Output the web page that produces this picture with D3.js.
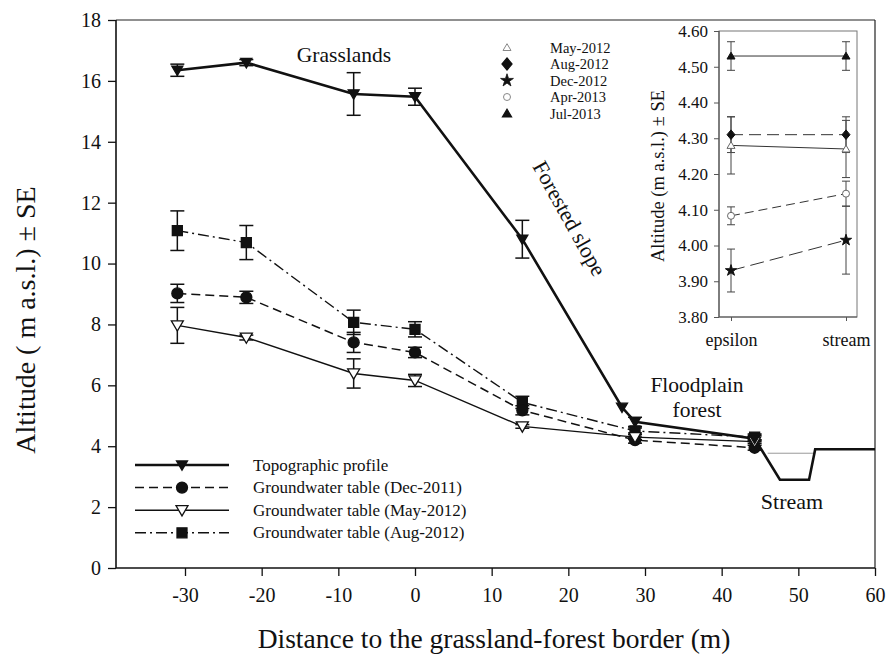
<!DOCTYPE html>
<html><head><meta charset="utf-8">
<script src="https://cdn.jsdelivr.net/npm/d3@7"></script>
<style>
body{margin:0;background:#fff;}
svg text{font-family:"Liberation Serif","Times New Roman",Times,serif !important;fill:#111;}
</style></head>
<body><svg id="c" width="887" height="655"></svg>
<script>
// ---- main chart data ----
const xPos = [-31, -22, -8, 0, 14, 28.7, 44.3];
const xTicks = [-30, -20, -10, 0, 10, 20, 30, 40, 50, 60];
const yTicks = [0, 2, 4, 6, 8, 10, 12, 14, 16, 18];
const topoX = [-31, -22, -8, 0, 14, 27, 28.7, 44.3, 47.6, 51.4, 52.2, 60];
const topoY = [16.35, 16.6, 15.57, 15.48, 10.8, 5.28, 4.8, 4.25, 2.9, 2.9, 3.9, 3.9];
const topoMarkX = [-31, -22, -8, 0, 14, 27, 28.7, 44.3];
const topoMarkY = [16.35, 16.6, 15.57, 15.48, 10.8, 5.28, 4.8, 4.25];
const topoErr = [0.2, 0.1, 0.7, 0.28, 0.62, 0, 0.15, 0.1];
const waterX = [46, 52.2];
const waterY = [3.77, 3.77];
const dec2011 = [9.02, 8.89, 7.41, 7.08, 5.18, 4.2, 3.95];
const dec2011Err = [0.3, 0.2, 0.33, 0.17, 0.15, 0.1, 0.08];
const may2012 = [7.97, 7.57, 6.39, 6.16, 4.65, 4.3, 4.15];
const may2012Err = [0.59, 0.08, 0.48, 0.2, 0.06, 0.08, 0.06];
const aug2012 = [11.08, 10.69, 8.07, 7.84, 5.44, 4.5, 4.3];
const aug2012Err = [0.65, 0.56, 0.4, 0.25, 0.2, 0.1, 0.1];
const mainLegend = ["Topographic profile", "Groundwater table (Dec-2011)", "Groundwater table (May-2012)", "Groundwater table (Aug-2012)"];

// ---- inset data ----
const insetCats = ["epsilon", "stream"];
const insetTicks = [3.80, 3.90, 4.00, 4.10, 4.20, 4.30, 4.40, 4.50, 4.60];
const insetNames = ["May-2012", "Aug-2012", "Dec-2012", "Apr-2013", "Jul-2013"];
const inMay12 = [4.28, 4.27], inMay12Err = [0.08, 0.08];
const inAug12 = [4.31, 4.31], inAug12Err = [0.05, 0.05];
const inDec12 = [3.93, 4.015], inDec12Err = [0.06, 0.095];
const inApr13 = [4.083, 4.145], inApr13Err = [0.025, 0.035];
const inJul13 = [4.53, 4.53], inJul13Err = [0.04, 0.04];

const SERIF = '"Liberation Serif","Times New Roman",Times,serif';
const svg = d3.select("#c");
const L = 116, R = 875, T = 20, B = 568;
const x = d3.scaleLinear().domain([-39, 60]).range([L, R]);
const y = d3.scaleLinear().domain([0, 18]).range([B, T]);

function txt(g, x0, y0, s, size, anchor, rot) {
  const t = g.append("text").attr("font-size", size).attr("text-anchor", anchor || "start")
    .style("font-family", SERIF).style("font-size", size + "px").text(s);
  if (rot != null) t.attr("transform", `translate(${x0},${y0}) rotate(${rot})`);
  else t.attr("x", x0).attr("y", y0);
  return t;
}

// frame
svg.append("line").attr("x1", L).attr("x2", R).attr("y1", T).attr("y2", T).attr("stroke", "#222").attr("stroke-width", 1.2);
svg.append("line").attr("x1", R).attr("x2", R).attr("y1", T).attr("y2", B).attr("stroke", "#222").attr("stroke-width", 1.2);

const gx = svg.append("g").attr("transform", `translate(0,${B})`)
  .call(d3.axisBottom(x).tickValues(xTicks).tickFormat(d => String(d)).tickSize(8).tickPadding(12).tickSizeOuter(0));
const gy = svg.append("g").attr("transform", `translate(${L},0)`)
  .call(d3.axisLeft(y).tickValues(yTicks).tickFormat(d => String(d)).tickSize(8).tickPadding(7).tickSizeOuter(0));
[gx, gy].forEach(g => {
  g.attr("font-family", null);
  g.select(".domain").attr("stroke", "#111").attr("stroke-width", 1.6);
  g.selectAll(".tick line").attr("stroke", "#111").attr("stroke-width", 1.3);
  g.selectAll("text").style("font-family", SERIF).style("font-size", "20px").attr("fill", "#111");
});
gx.select(".domain").attr("d", `M${L},0H${R}`);
gy.select(".domain").attr("d", `M0,${B}V${T}`);

txt(svg, 494, 648, "Distance to the grassland-forest border (m)", 27.5, "middle");
txt(svg, 35, 320, "Altitude ( m a.s.l.) ± SE", 28, "middle", -90);

// annotations
txt(svg, 344, 62, "Grasslands", 21.5, "middle");
txt(svg, 563, 222, "Forested slope", 22, "middle", 61);
txt(svg, 697, 392, "Floodplain", 21.5, "middle");
txt(svg, 697, 417, "forest", 21.5, "middle");
txt(svg, 792, 509, "Stream", 22, "middle");

// symbols
function sym(g, type, cx, cy, s, fill) {
  let p;
  if (type === "tdown") p = `M${cx - s},${cy - s * 0.75}L${cx + s},${cy - s * 0.75}L${cx},${cy + s * 0.95}Z`;
  else if (type === "tup") p = `M${cx - s},${cy + s * 0.75}L${cx + s},${cy + s * 0.75}L${cx},${cy - s * 0.95}Z`;
  else if (type === "square") p = `M${cx - s},${cy - s}h${2 * s}v${2 * s}h${-2 * s}Z`;
  else if (type === "diamond") p = `M${cx},${cy - s * 1.2}L${cx + s},${cy}L${cx},${cy + s * 1.2}L${cx - s},${cy}Z`;
  else if (type === "star") p = d3.symbol(d3.symbolStar, s * s * 3.2)();
  if (type === "circle") {
    g.append("circle").attr("cx", cx).attr("cy", cy).attr("r", s).attr("fill", fill).attr("stroke", "#111").attr("stroke-width", 1.3);
  } else if (type === "star") {
    g.append("path").attr("d", p).attr("transform", `translate(${cx},${cy})`).attr("fill", fill).attr("stroke", "#111").attr("stroke-width", 0.8);
  } else {
    g.append("path").attr("d", p).attr("fill", fill).attr("stroke", "#111").attr("stroke-width", 1.3).attr("stroke-linejoin", "miter");
  }
}

function errBars(g, xs, ys, es, xs_, ys_, cap, sw) {
  xs.forEach((xv, i) => {
    if (!es[i]) return;
    const cx = xs_(xv), y1 = ys_(ys[i] + es[i]), y2 = ys_(ys[i] - es[i]);
    g.append("line").attr("x1", cx).attr("x2", cx).attr("y1", y1).attr("y2", y2).attr("stroke", "#111").attr("stroke-width", sw);
    [y1, y2].forEach(yy => g.append("line").attr("x1", cx - cap).attr("x2", cx + cap).attr("y1", yy).attr("y2", yy).attr("stroke", "#111").attr("stroke-width", sw));
  });
}

const gm = svg.append("g");
const line = d3.line().x(d => x(d[0])).y(d => y(d[1]));
gm.append("path").attr("d", line(waterX.map((v, i) => [v, waterY[i]]))).attr("stroke", "#999").attr("stroke-width", 1).attr("fill", "none");

const series = [
  {vals: aug2012, err: aug2012Err, dash: "11,4,2,4", w: 1.4, sym: "square", fill: "#111", s: 5},
  {vals: dec2011, err: dec2011Err, dash: "9,5", w: 1.5, sym: "circle", fill: "#111", s: 5.5},
  {vals: may2012, err: may2012Err, dash: null, w: 1.4, sym: "tdown", fill: "#fff", s: 6},
];
series.forEach(sr => {
  gm.append("path").attr("d", line(xPos.map((v, i) => [v, sr.vals[i]]))).attr("fill", "none")
    .attr("stroke", "#111").attr("stroke-width", sr.w).attr("stroke-dasharray", sr.dash);
});
gm.append("path").attr("d", line(topoX.map((v, i) => [v, topoY[i]]))).attr("fill", "none")
  .attr("stroke", "#111").attr("stroke-width", 2.6).attr("stroke-linejoin", "miter");
series.forEach(sr => errBars(gm, xPos, sr.vals, sr.err, x, y, 7, 1.5));
errBars(gm, topoMarkX, topoMarkY, topoErr, x, y, 7, 1.5);
series.forEach(sr => xPos.forEach((v, i) => sym(gm, sr.sym, x(v), y(sr.vals[i]), sr.s, sr.fill)));
topoMarkX.forEach((v, i) => sym(gm, "tdown", x(v), y(topoMarkY[i]), 5.5, "#111"));

// main legend
const lg = svg.append("g");
const legStyles = [
  {dash: null, w: 2.6, sym: "tdown", fill: "#111", s: 5.5},
  {dash: "9,5", w: 1.5, sym: "circle", fill: "#111", s: 5.5},
  {dash: null, w: 1.4, sym: "tdown", fill: "#fff", s: 6},
  {dash: "11,4,2,4", w: 1.4, sym: "square", fill: "#111", s: 5},
];
mainLegend.forEach((name, i) => {
  const yy = 465 + i * 22.6;
  const st = legStyles[i];
  lg.append("line").attr("x1", 135).attr("x2", 229).attr("y1", yy).attr("y2", yy).attr("stroke", "#111")
    .attr("stroke-width", st.w).attr("stroke-dasharray", st.dash);
  sym(lg, st.sym, 182, yy, st.s, st.fill);
  txt(lg, 253, yy + 5.5, name, 17, "start");
});

// inset legend
const insetStyles = [
  {sym: "tup", fill: "#fff", s: 4},
  {sym: "diamond", fill: "#111", s: 5},
  {sym: "star", fill: "#111", s: 4},
  {sym: "circle", fill: "#fff", s: 3.5},
  {sym: "tup", fill: "#111", s: 4.5},
];
insetNames.forEach((name, i) => {
  const yy = 47.5 + i * 16.5;
  const st = insetStyles[i];
  const g = svg.append("g");
  sym(g, st.sym, 507, yy, st.s, st.fill);
  if (i === 0 || i === 3) g.selectAll("path,circle").attr("stroke", "#888").attr("stroke-width", 1);
  txt(svg, 550, yy + 5, name, 14.5, "start");
});

// ---- inset ----
const iL = 719, iR = 857, iT = 31, iB = 317;
const xi = d3.scalePoint().domain(insetCats).range([731, 846]);
const yi = d3.scaleLinear().domain([3.8, 4.6]).range([iB, iT]);
const gi = svg.append("g");
gi.append("rect").attr("x", iL).attr("y", iT).attr("width", iR - iL).attr("height", iB - iT).attr("fill", "none").attr("stroke", "#777").attr("stroke-width", 1);
const giy = gi.append("g").attr("transform", `translate(${iL},0)`).call(d3.axisLeft(yi).tickValues(insetTicks).tickFormat(d3.format(".2f")).tickSize(5).tickPadding(6).tickSizeOuter(0));
const gix = gi.append("g").attr("transform", `translate(0,${iB})`).call(d3.axisBottom(xi).tickSize(4).tickPadding(12).tickSizeOuter(0));
[giy, gix].forEach(g => {
  g.attr("font-family", null);
  g.select(".domain").attr("stroke", "#555").attr("stroke-width", 1.2);
  g.selectAll(".tick line").attr("stroke", "#555");
  g.selectAll("text").style("font-family", SERIF).style("font-size", "17px").attr("fill", "#111");
});
gix.selectAll("text").style("font-size", "18px");
gix.select(".domain").attr("d", `M${iL},0H${iR}`);
giy.select(".domain").attr("d", `M0,${iB}V${iT}`);
txt(gi, 664, 176, "Altitude (m a.s.l.) ± SE", 18.5, "middle", -90);

const insetSeries = [
  {vals: inJul13, err: inJul13Err, dash: null, sym: "tup", fill: "#111", s: 4, st: "#111"},
  {vals: inAug12, err: inAug12Err, dash: "12,6", sym: "diamond", fill: "#111", s: 4, st: "#111"},
  {vals: inMay12, err: inMay12Err, dash: null, sym: "tup", fill: "#fff", s: 4, st: "#666"},
  {vals: inApr13, err: inApr13Err, dash: "9,5", sym: "circle", fill: "#fff", s: 3.5, st: "#666"},
  {vals: inDec12, err: inDec12Err, dash: "14,6", sym: "star", fill: "#111", s: 3.5, st: "#111"},
];
const iline = d3.line().x(d => xi(d[0])).y(d => yi(d[1]));
insetSeries.forEach(sr => {
  gi.append("path").attr("d", iline(insetCats.map((c, i) => [c, sr.vals[i]]))).attr("fill", "none")
    .attr("stroke", "#333").attr("stroke-width", 1).attr("stroke-dasharray", sr.dash);
  insetCats.forEach((c, i) => {
    const cx = xi(c), y1 = yi(sr.vals[i] + sr.err[i]), y2 = yi(sr.vals[i] - sr.err[i]);
    gi.append("line").attr("x1", cx).attr("x2", cx).attr("y1", y1).attr("y2", y2).attr("stroke", "#444").attr("stroke-width", 1);
    [y1, y2].forEach(yy => gi.append("line").attr("x1", cx - 4).attr("x2", cx + 4).attr("y1", yy).attr("y2", yy).attr("stroke", "#444").attr("stroke-width", 1));
  });
});
insetSeries.forEach(sr => insetCats.forEach((c, i) => {
  const g = gi.append("g");
  sym(g, sr.sym, xi(c), yi(sr.vals[i]), sr.s, sr.fill);
  g.selectAll("path,circle").attr("stroke", sr.st).attr("stroke-width", 1);
}));
</script></body></html>
